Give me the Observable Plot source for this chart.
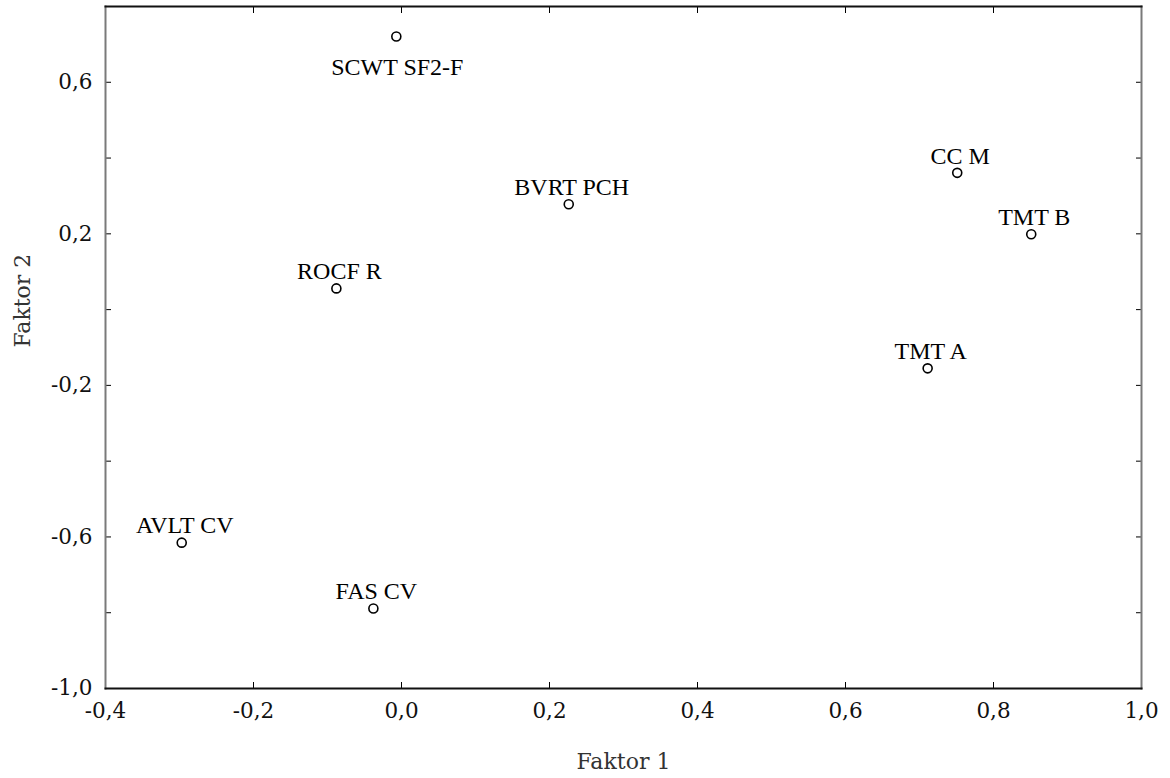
<!DOCTYPE html>
<html>
<head>
<meta charset="utf-8">
<script src="https://cdn.jsdelivr.net/npm/d3@7"></script>
<script src="https://cdn.jsdelivr.net/npm/@observablehq/plot@0.6"></script>
<style>
  html, body { margin: 0; padding: 0; background: #fff; }
  #chart svg { display: block; }
</style>
</head>
<body>
<div id="chart"></div>
<script>
// ---- data ----
const variables = ["SCWT SF2-F", "BVRT PCH", "CC M", "TMT B", "ROCF R", "TMT A", "AVLT CV", "FAS CV"];
const faktor1   = [-0.007, 0.226, 0.751, 0.851, -0.088, 0.711, -0.297, -0.038];
const faktor2   = [0.721, 0.278, 0.361, 0.199, 0.056, -0.155, -0.615, -0.789];
const labelSide = ["below", "above", "above", "above", "above", "above", "above", "above"];
const xTicks = [-0.4, -0.2, 0.0, 0.2, 0.4, 0.6, 0.8, 1.0];
const yTicks = [-1.0, -0.8, -0.6, -0.4, -0.2, 0.0, 0.2, 0.4, 0.6, 0.8];
const yTickLabels = [-1.0, -0.6, -0.2, 0.2, 0.6];
const xTitle = "Faktor 1";
const yTitle = "Faktor 2";

const data = variables.map((v, i) => ({name: v, f1: faktor1[i], f2: faktor2[i], side: labelSide[i]}));
const fmt = d => (Math.abs(d) < 1e-9 ? 0 : d).toFixed(1).replace(".", ",");
const tickFont = "'DejaVu Serif', 'Liberation Serif', serif";
const labelFont = "'Liberation Serif', 'DejaVu Serif', serif";

const chart = Plot.plot({
  width: 1170,
  height: 778,
  marginLeft: 105,
  marginRight: 29,
  marginTop: 6,
  marginBottom: 90,
  style: "font-family: 'DejaVu Serif', 'Liberation Serif', serif; font-size: 21px; background: #fff; color: #000;",
  x: {domain: [-0.4, 1.0]},
  y: {domain: [-1.0, 0.8]},
  marks: [
    // inward ticks on all four sides
    Plot.axisX(xTicks, {anchor: "bottom", tickSize: -6, tickFormat: () => "", label: null, stroke: "#000"}),
    Plot.axisX(xTicks, {anchor: "top", tickSize: -6, tickFormat: () => "", label: null, stroke: "#000"}),
    Plot.axisY(yTicks, {anchor: "left", tickSize: -6, tickFormat: () => "", label: null, stroke: "#000"}),
    Plot.axisY(yTicks, {anchor: "right", tickSize: -6, tickFormat: () => "", label: null, stroke: "#000"}),
    // tick labels
    Plot.axisX(xTicks, {anchor: "bottom", tickSize: 0, tickPadding: 14, tickFormat: fmt, label: null,
      fill: "#111", fontFamily: tickFont, fontSize: 21.5}),
    Plot.axisY(yTickLabels, {anchor: "left", tickSize: 0, tickPadding: 13, tickFormat: fmt, label: null,
      fill: "#111", fontFamily: tickFont, fontSize: 21.5}),
    // axis titles
    Plot.text([xTitle], {frameAnchor: "bottom", dy: 80, text: d => d, fill: "#333",
      fontFamily: tickFont, fontSize: 22}),
    Plot.text([yTitle], {frameAnchor: "left", dx: -83, rotate: -90, text: d => d, fill: "#333",
      fontFamily: tickFont, fontSize: 22}),
    // frame
    Plot.frame({anchor: "left", stroke: "#7a7a7a", strokeWidth: 2}),
    Plot.frame({anchor: "right", stroke: "#7a7a7a", strokeWidth: 2}),
    Plot.frame({anchor: "top", stroke: "#111", strokeWidth: 2}),
    Plot.frame({anchor: "bottom", stroke: "#111", strokeWidth: 2}),
    // points
    Plot.dot(data, {x: "f1", y: "f2", r: 4.5, stroke: "#000", strokeWidth: 1.6, fill: "#fff"}),
    // labels
    Plot.text(data.filter(d => d.side === "above"), {x: "f1", y: "f2", text: "name", dx: 3, dy: -17,
      fontFamily: labelFont, fontSize: 24, fill: "#000"}),
    Plot.text(data.filter(d => d.side === "below"), {x: "f1", y: "f2", text: "name", dx: 1, dy: 31,
      fontFamily: labelFont, fontSize: 24, fill: "#000"})
  ]
});
document.getElementById("chart").appendChild(chart);
</script>
</body>
</html>
